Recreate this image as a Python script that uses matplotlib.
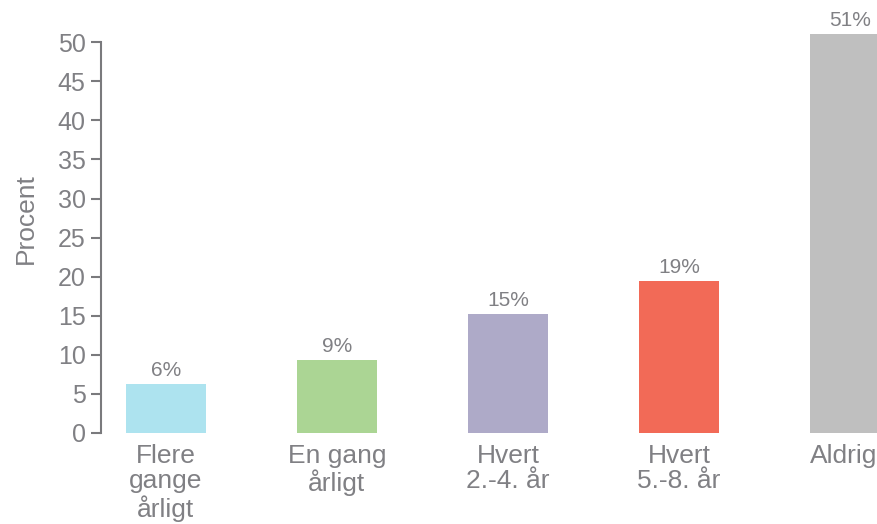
import matplotlib
matplotlib.use("Agg")
import matplotlib.pyplot as plt
from matplotlib.transforms import ScaledTranslation

plt.rcParams['font.family'] = ['Liberation Sans', 'DejaVu Sans']

categories = ["Flere\ngange\nårligt", "En gang\nårligt", "Hvert\n2.-4. år", "Hvert\n5.-8. år", "Aldrig"]
values = [6.3, 9.4, 15.2, 19.4, 51.0]
value_labels = ["6%", "9%", "15%", "19%", "51%"]
colors = ["#ade3ef", "#abd594", "#aeaac8", "#f26a57", "#bfbfbf"]

text_color = "#808084"

fig = plt.figure(figsize=(8.78, 5.24), dpi=100)
# axes runs past the right edge so the last bar is cut like in the original
ax = fig.add_axes([0.115, 0.1737, 0.9504, 0.8203])

x = range(len(categories))
bars = ax.bar(x, values, width=0.47, color=colors)

for b, lab in zip(bars, value_labels):
    ax.text(b.get_x() + b.get_width() / 2, b.get_height() + 0.5, lab,
            ha="center", va="bottom", fontsize=15, color=text_color)

ax.set_xlim(-0.38, 4.5)
ax.set_ylim(0, 55)
ax.set_yticks(range(0, 51, 5))
ax.spines['left'].set_bounds(0, 50)
ax.spines['left'].set_color("#7a7a7d")
ax.spines['left'].set_linewidth(1.5)
for s in ['top', 'right', 'bottom']:
    ax.spines[s].set_visible(False)

ax.tick_params(axis='y', direction='out', length=7, width=1.5, color="#7a7a7d",
               labelsize=18, labelcolor=text_color, pad=4)
ax.set_xticks(list(x))
ax.set_xticklabels(categories, fontsize=19, color=text_color, linespacing=1.07)
ax.tick_params(axis='x', length=0, pad=8)
# keep last label inside the picture
last = ax.get_xticklabels()[-1]
last.set_transform(last.get_transform() + ScaledTranslation(-6 / 100, 0, fig.dpi_scale_trans))
ax.set_ylabel("Procent", fontsize=19, color=text_color, labelpad=14)

fig.savefig("out.png", dpi=100)
